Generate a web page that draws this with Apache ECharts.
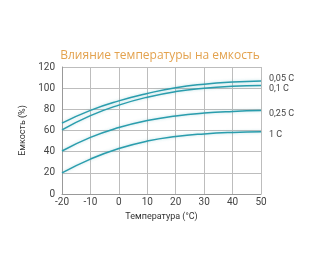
<!DOCTYPE html>
<html><head><meta charset="utf-8">
<script src="https://cdn.jsdelivr.net/npm/echarts@6/dist/echarts.min.js"></script>
<style>html,body{margin:0;padding:0;background:#fff}#c{width:320px;height:266px}</style>
</head><body><div id="c"></div>
<script>
const temps = [-20, -10, 0, 10, 20, 30, 40, 50];
const seriesNames = ['0,05 C', '0,1 C', '0,25 C', '1 C'];
const c005 = [67, 79, 88, 95, 100.5, 103.8, 105.8, 106.8];
const c01 = [60.5, 74, 84, 91.5, 96.8, 100, 101.8, 102.5];
const c025 = [40.6, 53.5, 62.8, 69.5, 73.8, 76.5, 78, 78.8];
const c1 = [20, 33, 43, 50, 54.3, 56.8, 58.2, 58.8];
const yTicks = [0, 20, 40, 60, 80, 100, 120];
const values = [c005, c01, c025, c1];
const labelOffsets = [[8, -2], [8, 3], [8, 3], [8, 3]];
const lineColor = '#2a9dad';
const chart = echarts.init(document.getElementById('c'), null, {renderer: 'canvas'});
chart.setOption({
  animation: false,
  title: {
    text: 'Влияние температуры на емкость',
    left: 'center', top: 45,
    textStyle: {color: '#e3a24e', fontSize: 12, fontWeight: 'normal', fontFamily: 'Open Sans'}
  },
  grid: {left: 62, right: 59, top: 67, bottom: 72, containLabel: false},
  xAxis: {
    type: 'value', min: -20, max: 50, interval: 10,
    name: 'Температура (°C)', nameLocation: 'middle', nameGap: 18,
    nameTextStyle: {fontSize: 9, color: '#333', fontFamily: 'Roboto'},
    axisLine: {show: true, onZero: false, lineStyle: {color: '#999'}},
    axisTick: {show: false},
    axisLabel: {fontSize: 10, color: '#444', margin: 3, fontFamily: 'Roboto'},
    splitLine: {show: true, lineStyle: {color: '#bdbdbd', width: 1}}
  },
  yAxis: {
    type: 'value', min: yTicks[0], max: yTicks[yTicks.length - 1], interval: 20,
    name: 'Емкость (%)', nameLocation: 'middle', nameGap: 28, nameRotate: 90,
    nameTextStyle: {fontSize: 9, color: '#333', fontFamily: 'Roboto'},
    axisLine: {show: true, onZero: false, lineStyle: {color: '#999'}},
    axisTick: {show: false},
    axisLabel: {fontSize: 10, color: '#444', margin: 7, fontFamily: 'Roboto'},
    splitLine: {show: true, lineStyle: {color: '#bdbdbd', width: 1}}
  },
  series: values.map((v, i) => ({
    type: 'line', name: seriesNames[i],
    data: temps.map((t, j) => [t, v[j]]),
    smooth: 0.5, showSymbol: false, symbol: 'none',
    lineStyle: {color: lineColor, width: 1.5, shadowColor: 'rgba(42,157,173,0.35)', shadowBlur: 3},
    endLabel: {
      show: true, formatter: seriesNames[i], color: '#444', fontSize: 9,
      fontFamily: 'Roboto', distance: 0, offset: labelOffsets[i], align: 'left'
    }
  }))
});
</script></body></html>
